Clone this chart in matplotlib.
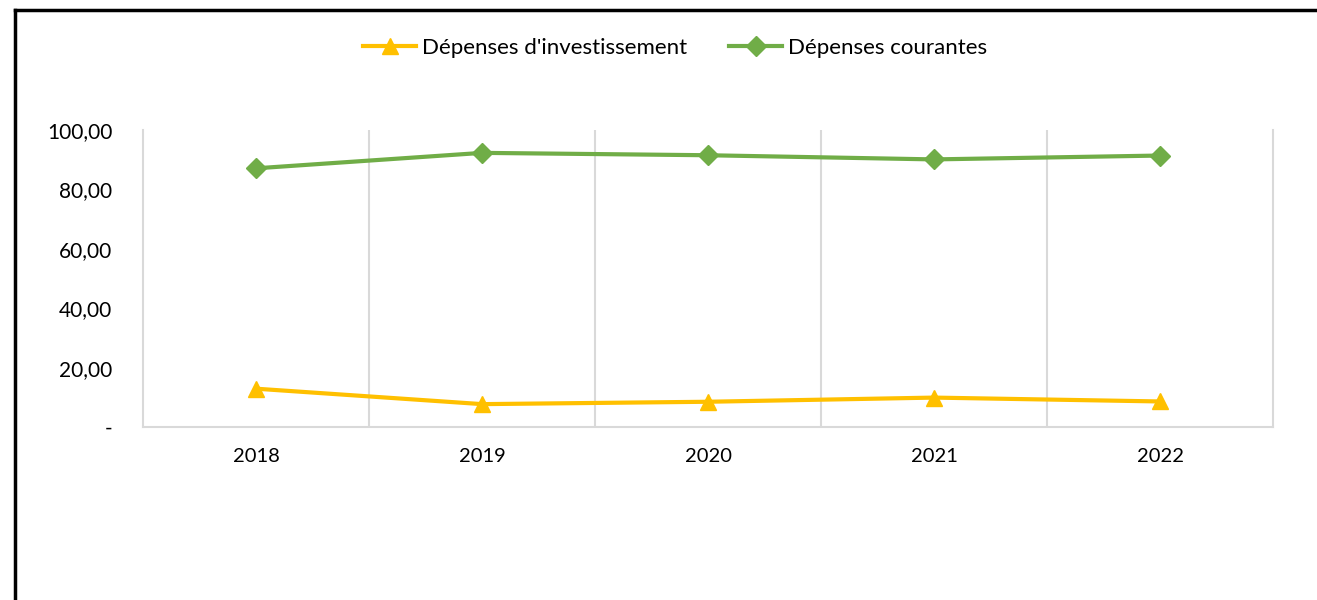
import matplotlib
matplotlib.use('Agg')
import matplotlib.pyplot as plt
from matplotlib.lines import Line2D

plt.rcParams['font.family'] = ['Lato', 'DejaVu Sans']

# Data
years = ['2018', '2019', '2020', '2021', '2022']
invest = [12.9, 7.7, 8.5, 9.9, 8.6]
courantes = [87.1, 92.3, 91.5, 90.1, 91.4]
yticks = [0, 20, 40, 60, 80, 100]
ytick_labels = ['-', '20,00', '40,00', '60,00', '80,00', '100,00']

yellow = '#FFC000'
green = '#70AD47'
grid_grey = '#D9D9D9'

fig = plt.figure(figsize=(13.17, 6), dpi=100)
ax = fig.add_axes([143 / 1317, 1 - 427 / 600, 1130 / 1317, 297 / 600])

x = range(len(years))
ax.plot(x, invest, color=yellow, lw=3, marker='^', markersize=12,
        label="Dépenses d'investissement")
ax.plot(x, courantes, color=green, lw=3, marker='D', markersize=10,
        label='Dépenses courantes')

ax.set_xlim(-0.5, len(years) - 0.5)
ax.set_ylim(0, 100)

# vertical grid lines between categories
ax.set_xticks([i + 0.5 for i in range(len(years) - 1)], minor=True)
ax.grid(which='minor', axis='x', color=grid_grey, lw=1.5)
ax.set_xticks(list(x))
ax.set_xticklabels(years, fontsize=14.5)
ax.set_yticks(yticks)
ax.set_yticklabels(ytick_labels, fontsize=15)
ax.tick_params(axis='both', which='both', length=0)
ax.tick_params(axis='y', pad=22)
ax.tick_params(axis='x', pad=15)

ax.spines['top'].set_visible(False)
for side in ['left', 'right', 'bottom']:
    ax.spines[side].set_color(grid_grey)
    ax.spines[side].set_linewidth(1.5)

fig.legend(loc='center', bbox_to_anchor=(0.5125, 1 - 48 / 600), ncol=2,
           frameon=False, fontsize=16, handlelength=2.4, columnspacing=1.9,
           handletextpad=0.25)

# outer frame (top and left edges visible)
fig.add_artist(Line2D([15 / 1317, 15 / 1317], [0, 1 - 10 / 600],
                      transform=fig.transFigure, color='black', lw=2.5))
fig.add_artist(Line2D([15 / 1317, 1], [1 - 10 / 600, 1 - 10 / 600],
                      transform=fig.transFigure, color='black', lw=2.5))

fig.savefig('out.png', dpi=100, facecolor='white')
